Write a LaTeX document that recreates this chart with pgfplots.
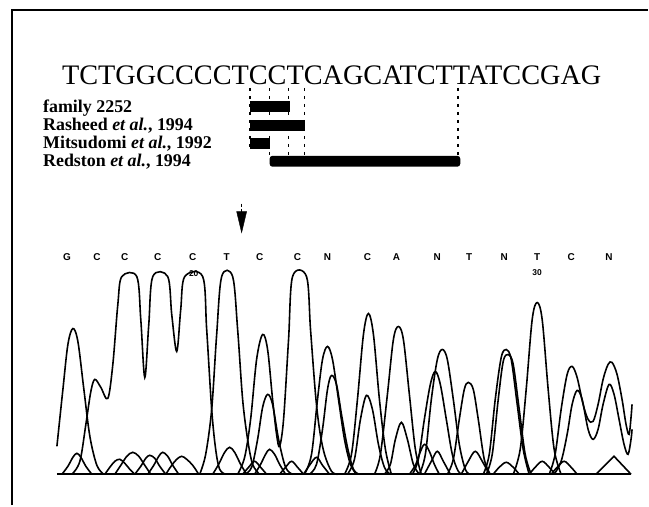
\documentclass[border=0pt]{standalone}
\usepackage{pgfplots}
\pgfplotsset{compat=1.18}
\usepackage{fontspec}
\setmainfont{Liberation Serif}
\newfontfamily\basefont{Liberation Sans}
\pgfplotsset{tr/.style={black, line width=1.6bp, smooth, tension=0.55, no marks}}
\begin{document}
\begin{tikzpicture}
\begin{axis}[width=649bp, height=506bp, scale only axis, xmin=0, xmax=649, ymin=0, ymax=506,
  y dir=reverse, hide axis, clip=false]
% bounding
\addplot[draw=none] coordinates {(0,0) (649,506)};
% frame
\addplot[black, line width=2bp] coordinates {(12,506) (12,10) (649,10)};
% sequence and labels
\node[anchor=base west, inner sep=0] at (axis cs:62,85) {\fontsize{28.4}{30}\selectfont TCTGGCCCCTCCTCAGCATCTTATCCGAG};
\node[anchor=base west, inner sep=0] at (axis cs:43,113) {\fontsize{18}{20}\selectfont\bfseries family 2252};
\node[anchor=base west, inner sep=0] at (axis cs:43,131) {\fontsize{18}{20}\selectfont\bfseries Rasheed \textit{et al.}, 1994};
\node[anchor=base west, inner sep=0] at (axis cs:43,149) {\fontsize{18}{20}\selectfont\bfseries Mitsudomi \textit{et al.}, 1992};
\node[anchor=base west, inner sep=0] at (axis cs:43,167) {\fontsize{18}{20}\selectfont\bfseries Redston \textit{et al.}, 1994};
% bars
\addplot[fill=black, draw=none] coordinates {(250,101) (290,101) (290,112) (250,112)} --cycle;
\addplot[fill=black, draw=none] coordinates {(250,120) (305,120) (305,131) (250,131)} --cycle;
\addplot[fill=black, draw=none] coordinates {(250,138) (270,138) (270,149) (250,149)} --cycle;
\addplot[fill=black, draw=none, rounded corners=3bp] coordinates {(270,156) (461,156) (461,167) (270,167)} --cycle;
% dashed guide lines
\addplot[black, line width=1.8bp, dash pattern=on 3bp off 5bp] coordinates {(250,88) (250,150)};
\addplot[black, line width=1.8bp, dash pattern=on 3bp off 5bp] coordinates {(270,88) (270,156)};
\addplot[black, line width=1.8bp, dash pattern=on 3bp off 5bp] coordinates {(289,88) (289,156)};
\addplot[black, line width=1.8bp, dash pattern=on 3bp off 5bp] coordinates {(305,88) (305,156)};
\addplot[black, line width=1.8bp, dash pattern=on 3bp off 5bp] coordinates {(459,88) (459,156)};
% arrow
\addplot[black, line width=1.6bp, dash pattern=on 3bp off 2bp] coordinates {(242,204) (242,213)};
\addplot[fill=black, draw=black] coordinates {(237,212) (247,212) (242,233)} --cycle;
% base calls
\foreach \xx/\bb in {67/G,97/C,125/C,158/C,193/C,227/T,260/C,298/C,328/N,368/C,397/A,438/N,470/T,505/N,538/T,572/C,610/N}{
  \edef\temp{\noexpand\node[inner sep=0] at (axis cs:\xx,257) {\noexpand\basefont\noexpand\bfseries\noexpand\fontsize{10}{11}\noexpand\selectfont \bb};}
  \temp
}
\node[inner sep=0] at (axis cs:194,274) {\basefont\bfseries\fontsize{8.5}{9}\selectfont 20};
\node[inner sep=0] at (axis cs:538,273) {\basefont\bfseries\fontsize{8.5}{9}\selectfont 30};
% baseline
\addplot[black, line width=2.4bp] coordinates {(57,475) (632,475)};
% ---- chromatogram traces ----
\addplot[tr] coordinates {(57,447) (63,390) (68,345) (73,329) (78,342) (84,390) (90,437) (97,466) (104,475)};
\addplot[tr] coordinates {(72,475) (80,462) (86,425) (91,392) (95,380) (101,388) (108,399) (113,365) (118,305) (122,277) (137,277) (141,320) (145,378) (149,325) (153,277) (168,277) (172,315) (177,352) (181,310) (185,277) (203,277) (207,330) (212,410) (216,450) (220,470) (226,475)};
\addplot[tr] coordinates {(200,475) (206,455) (212,410) (217,335) (222,277) (233,277) (238,330) (243,400) (248,440) (253,465) (260,475)};
\addplot[tr] coordinates {(238,475) (245,458) (251,420) (257,360) (263,335) (268,350) (273,400) (277,435) (280,447) (284,420) (289,340) (293,277) (307,277) (311,330) (316,395) (320,430) (325,455) (332,472) (338,475)};
\addplot[tr] coordinates {(245,475) (252,468) (258,440) (263,408) (268,395) (273,405) (279,440) (286,468) (293,475)};
\addplot[tr] coordinates {(305,475) (312,455) (318,400) (323,360) (328,347) (333,360) (339,400) (345,440) (351,465) (357,475)};
\addplot[tr] coordinates {(310,475) (317,465) (323,430) (328,390) (332,376) (337,385) (342,415) (348,448) (354,470) (360,475)};
\addplot[tr] coordinates {(345,475) (352,455) (358,400) (364,335) (369,314) (374,335) (380,400) (386,450) (392,475)};
\addplot[tr] coordinates {(348,475) (355,460) (361,420) (367,396) (373,410) (379,445) (385,468) (391,475)};
\addplot[tr] coordinates {(375,475) (381,455) (388,395) (394,340) (399,327) (404,340) (410,395) (416,450) (422,475)};
\addplot[tr] coordinates {(385,475) (391,465) (396,440) (402,423) (408,440) (414,465) (420,475)};
\addplot[tr] coordinates {(420,475) (426,455) (432,400) (438,360) (443,350) (448,360) (454,400) (460,445) (466,470) (471,475)};
\addplot[tr] coordinates {(413,475) (419,460) (425,420) (431,385) (436,372) (441,385) (447,420) (453,455) (459,472) (464,475)};
\addplot[tr] coordinates {(410,475) (416,466) (420,455) (425,445) (430,452) (435,465) (440,475)};
\addplot[tr] coordinates {(425,475) (432,462) (438,452) (444,462) (451,475)};
\addplot[tr] coordinates {(448,475) (454,460) (460,420) (465,390) (469,383) (474,390) (479,420) (485,460) (491,475)};
\addplot[tr] coordinates {(462,475) (469,462) (476,452) (483,462) (490,475)};
\addplot[tr] coordinates {(484,475) (490,455) (496,400) (502,358) (507,350) (512,360) (518,405) (524,450) (530,475)};
\addplot[tr] coordinates {(487,475) (493,455) (499,400) (504,362) (509,355) (514,365) (520,410) (526,455) (532,475)};
\addplot[tr] coordinates {(494,475) (500,468) (507,463) (514,468) (520,475)};
\addplot[tr] coordinates {(514,475) (521,450) (527,390) (533,320) (538,303) (543,320) (549,390) (555,450) (562,475)};
\addplot[tr] coordinates {(530,475) (536,468) (543,462) (550,468) (556,475)};
\addplot[tr] coordinates {(552,475) (558,468) (565,462) (572,468) (578,475)};
\addplot[tr] coordinates {(550,475) (556,455) (562,410) (568,375) (573,367) (578,378) (584,405) (589,420) (594,422) (599,405) (604,380) (609,365) (613,363) (618,375) (623,400) (627,425) (630,435) (632,418) (633,405)};
\addplot[tr] coordinates {(555,475) (562,462) (568,435) (573,405) (578,391) (583,400) (589,430) (594,440) (599,430) (604,405) (610,385) (615,395) (620,420) (625,445) (629,455) (632,440) (633,430)};
\addplot[black, line width=1.6bp] coordinates {(597,475) (615,457) (632,475)};
% small bottom peaks
\addplot[tr] coordinates {(62,475) (68,467) (73,458) (77,454) (81,458) (86,467) (92,475)};
\addplot[tr] coordinates {(105,475) (110,468) (115,462) (120,460) (125,464) (130,470) (135,475)};
\addplot[tr] coordinates {(115,475) (121,466) (127,457) (133,453) (139,457) (145,466) (151,475)};
\addplot[tr] coordinates {(135,475) (141,467) (146,459) (150,456) (155,459) (160,467) (166,475)};
\addplot[tr] coordinates {(148,475) (154,466) (159,457) (163,453) (168,457) (173,466) (179,475)};
\addplot[tr] coordinates {(166,475) (172,466) (177,460) (182,457) (187,460) (193,466) (199,475)};
\addplot[tr] coordinates {(213,475) (219,465) (225,453) (230,448) (235,453) (241,465) (247,475)};
\addplot[tr] coordinates {(243,475) (249,468) (255,462) (261,468) (267,475)};
\addplot[tr] coordinates {(255,475) (261,465) (266,455) (270,450) (275,455) (280,465) (286,475)};
\addplot[tr] coordinates {(280,475) (286,468) (292,462) (298,468) (304,475)};
\addplot[tr] coordinates {(304,475) (310,466) (317,458) (323,466) (330,475)};
\end{axis}
\end{tikzpicture}
\end{document}
